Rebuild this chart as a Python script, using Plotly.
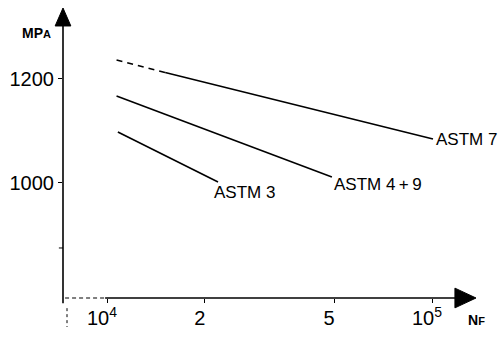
import math
import plotly.graph_objects as go

# ---- data ----
astm7_dash_x = [10700, 15100]
astm7_dash_y = [1236.5, 1212.5]
astm7_x = [15100, 100700]
astm7_y = [1212.5, 1084.6]
astm49_x = [10700, 49200]
astm49_y = [1167.3, 1011.5]
astm3_x = [10800, 21960]
astm3_y = [1098.0, 1001.9]

x_tickvals = [1e4, 2e4, 5e4, 1e5]
x_ticktext = ["10<sup>4</sup>", "2", "5", "10<sup>5</sup>"]
y_tickvals = [1000, 1200]
y_ticktext = ["1000", "1200"]
y_minor_tick = 875

FONT = "Liberation Sans, Arial, sans-serif"
line = dict(color="black", width=1.6)

fig = go.Figure()
fig.add_trace(go.Scatter(x=astm7_dash_x, y=astm7_dash_y, mode="lines",
                         line=dict(color="black", width=1.6, dash="6px,5px")))
fig.add_trace(go.Scatter(x=astm7_x, y=astm7_y, mode="lines", line=line))
fig.add_trace(go.Scatter(x=astm49_x, y=astm49_y, mode="lines", line=line))
fig.add_trace(go.Scatter(x=astm3_x, y=astm3_y, mode="lines", line=line))

labels = [
    ("ASTM 7", astm7_x[-1], astm7_y[-1], 1, -1),
    ("ASTM 4\u2009+\u20099", astm49_x[-1], astm49_y[-1], 0, -7),
    ("ASTM 3", astm3_x[-1], astm3_y[-1], -6, -11),
]
for txt, x, y, xs, ys in labels:
    fig.add_annotation(x=math.log10(x), y=y, xref="x", yref="y", text=txt, showarrow=False,
                       xanchor="left", yanchor="middle", xshift=xs, yshift=ys,
                       font=dict(family=FONT, size=17, color="black"))

shapes = [
    # y axis line (extends slightly below x axis)
    dict(type="line", xref="paper", yref="paper", x0=0, x1=0, y0=0.94, y1=-0.018,
         line=dict(color="black", width=1.6)),
    # y arrow head
    dict(type="path", xref="paper", yref="paper",
         path="M -0.019 0.938 L 0.019 0.938 L 0 1 Z", fillcolor="black",
         line=dict(color="black", width=1)),
    # unlabelled y tick
    dict(type="line", xref="paper", yref="y", x0=-0.01, x1=0, y0=y_minor_tick, y1=y_minor_tick,
         line=dict(color="black", width=1)),
    # x axis dashed start
    dict(type="line", xref="paper", yref="paper", x0=0.005, x1=0.102, y0=0, y1=0,
         line=dict(color="black", width=1.2, dash="4px,3px")),
    # x axis solid
    dict(type="line", xref="paper", yref="paper", x0=0.102, x1=0.96, y0=0, y1=0,
         line=dict(color="black", width=1.4)),
    # x arrow head
    dict(type="path", xref="paper", yref="paper",
         path="M 0.949 0.034 L 0.949 -0.034 L 1 0 Z", fillcolor="black",
         line=dict(color="black", width=1)),
    # small dotted mark below axis origin
    dict(type="line", xref="paper", yref="paper", x0=0.0097, x1=0.0097, y0=-0.035, y1=-0.1,
         line=dict(color="black", width=1, dash="dot")),
]

fig.add_annotation(xref="paper", yref="paper", x=-0.024, y=0.914, showarrow=False,
                   xanchor="right", yanchor="middle",
                   text="<b>MP<span style='font-size:11px'>A</span></b>",
                   font=dict(family=FONT, size=14, color="black"))
fig.add_annotation(xref="paper", yref="paper", x=0.976, y=-0.076, showarrow=False,
                   xanchor="left", yanchor="middle",
                   text="<b>N<span style='font-size:11px'>F</span></b>",
                   font=dict(family=FONT, size=14, color="black"))

fig.update_layout(
    width=498, height=339,
    margin=dict(l=63, r=22, t=8, b=41),
    paper_bgcolor="white", plot_bgcolor="white",
    showlegend=False,
    shapes=shapes,
    font=dict(family=FONT, color="black"),
    xaxis=dict(type="log", range=[3.8646, 5.1354], tickvals=x_tickvals, ticktext=x_ticktext,
               showgrid=False, zeroline=False, showline=False,
               ticks="outside", ticklen=4, tickwidth=1, tickcolor="black",
               ticklabelshift=-5, ticklabelstandoff=-2,
               tickfont=dict(family=FONT, size=20, color="black")),
    yaxis=dict(range=[778.8, 1336.5], tickvals=y_tickvals, ticktext=y_ticktext,
               showgrid=False, zeroline=False, showline=False,
               ticks="outside", ticklen=4, tickwidth=1, tickcolor="black",
               tickfont=dict(family=FONT, size=20, color="black")),
)

fig.write_html("out.html")
